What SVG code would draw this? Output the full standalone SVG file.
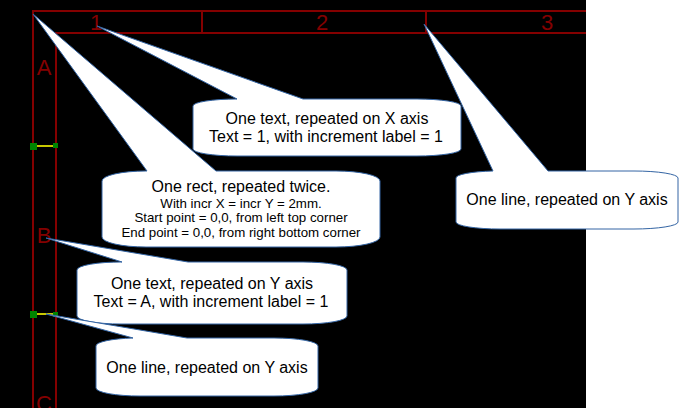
<svg xmlns="http://www.w3.org/2000/svg" width="694" height="408" viewBox="0 0 694 408">
<style>
.f{stroke:#840000;stroke-width:2;fill:none}
.l{font-family:"Liberation Sans",Arial,sans-serif;font-size:22px;fill:#840000;text-anchor:middle}
.c{fill:#fff;stroke:#3465a4;stroke-width:1;stroke-linejoin:miter}
text.t{font-family:"Liberation Sans",Arial,sans-serif;font-size:16px;fill:#000;text-anchor:middle}
text.s{font-family:"Liberation Sans",Arial,sans-serif;font-size:13.3px;fill:#000;text-anchor:middle}
.y{stroke:#c8c800;stroke-width:2}
.g{fill:#008400}
</style>
<rect id="background" width="586" height="408" fill="#000"/>
<g id="frame">
<path class="f" d="M33 408V11H586M56 408V33H586M202 11V33M426 11V33"/>
<text class="l" x="96" y="30">1</text>
<text class="l" x="322" y="30">2</text>
<text class="l" x="547" y="30">3</text>
<text class="l" x="44" y="75">A</text>
<text class="l" x="44" y="243">B</text>
<text class="l" x="44" y="411">C</text>
<path class="y" d="M37 146H54M37 314H54"/>
<rect class="g" x="30" y="143" width="7" height="7"/>
<rect class="g" x="53" y="143" width="5" height="5"/>
<rect class="g" x="30" y="311" width="7" height="7"/>
<rect class="g" x="53" y="312" width="5" height="5"/>
</g>
<g id="callout-x-text">
<path class="c" d="M97 26L303 99H417A44 7 0 0 1 461 106V149A44 7 0 0 1 417 156H237A44 7 0 0 1 193 149V106A44 7 0 0 1 237 99Z"/>
<text class="t" x="327" y="124">One text, repeated on X axis</text>
<text class="t" x="326" y="142">Text = 1, with increment label = 1</text>
</g>
<g id="callout-rect">
<path class="c" d="M33 14L216 171H336A44 10 0 0 1 380 181V237A44 10 0 0 1 336 247H146A44 10 0 0 1 102 237V181A44 10 0 0 1 146 171H147Z"/>
<text class="t" x="241" y="192">One rect, repeated twice.</text>
<text class="s" x="241" y="208">With incr X = incr Y = 2mm.</text>
<text class="s" x="241" y="222">Start point = 0,0, from left top corner</text>
<text class="s" x="241" y="237">End point = 0,0, from right bottom corner</text>
</g>
<g id="callout-y-line-right">
<path class="c" d="M424 24L548 171H634A44 7 0 0 1 678 178V222A44 7 0 0 1 634 229H500A44 7 0 0 1 456 222V178A44 7 0 0 1 493 171Z"/>
<text class="t" x="567" y="205">One line, repeated on Y axis</text>
</g>
<g id="callout-y-text">
<path class="c" d="M46 238L188 262H303A44 8 0 0 1 347 270V316A44 8 0 0 1 303 324H121A44 8 0 0 1 77 316V270A44 8 0 0 1 122 262Z"/>
<text class="t" x="212" y="289">One text, repeated on Y axis</text>
<text class="t" x="211" y="307">Text = A, with increment label = 1</text>
</g>
<g id="callout-y-line-bottom">
<path class="c" d="M46 314L187 338H274A44 8 0 0 1 318 346V388A44 8 0 0 1 274 396H140A44 8 0 0 1 96 388V346A44 8 0 0 1 133 338Z"/>
<text class="t" x="207" y="373">One line, repeated on Y axis</text>
</g>
</svg>
